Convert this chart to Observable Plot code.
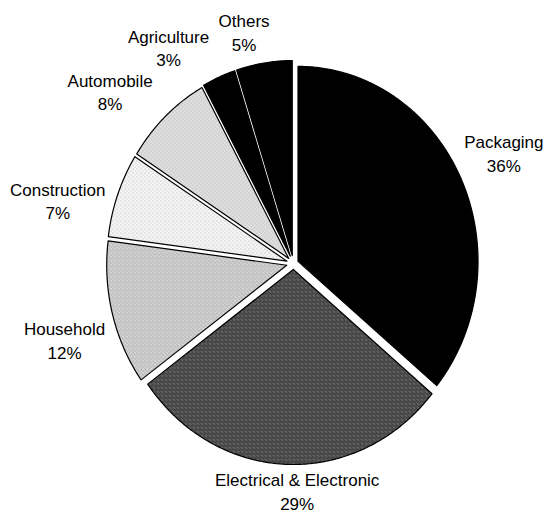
<!DOCTYPE html>
<html>
<head>
<meta charset="utf-8">
<script src="https://cdn.jsdelivr.net/npm/d3@7"></script>
<script src="https://cdn.jsdelivr.net/npm/@observablehq/plot@0.6"></script>
<style>
  html, body { margin: 0; padding: 0; background: #fff; }
  #chart { width: 544px; height: 515px; }
</style>
</head>
<body>
<div id="chart"></div>
<script>
// ---- data ----
const categories = ["Packaging", "Electrical & Electronic", "Household", "Construction", "Automobile", "Agriculture", "Others"];
const shares = [36, 29, 12, 7, 8, 3, 5];

// ---- style / layout ----
const fills = ["#000", "url(#pElec)", "url(#pHouse)", "url(#pConstr)", "url(#pAuto)", "#000", "#000"];
const explodePx = [5, 6, 7, 7, 7, 8, 8];          // explosion distance per slice (px)
const labelAngle = [64, 179, 253, 284, 311, 328, 347];   // degrees clockwise from top
const labelRadius = [1.30, 1.165, 1.33, 1.35, 1.35, 1.31, 1.22];
const cx = 293, cy = 263, rx = 180, ry = 195;

const total = d3.sum(shares);
const rad = Math.PI / 180;
let acc = 0;
const slices = categories.map((name, i) => {
  const a0 = acc / total * 360;
  acc += shares[i];
  const a1 = acc / total * 360;
  const mid = (a0 + a1) / 2;
  const ex = explodePx[i] * Math.sin(mid * rad) / rx;
  const ey = explodePx[i] * Math.cos(mid * rad) / ry;
  const pts = [{x: ex, y: ey}];
  const n = Math.max(2, Math.ceil((a1 - a0) / 0.5));
  for (let k = 0; k <= n; k++) {
    const a = (a0 + (a1 - a0) * k / n) * rad;
    pts.push({x: Math.sin(a) + ex, y: Math.cos(a) + ey});
  }
  pts.push({x: ex, y: ey});
  return {name, share: shares[i], pts, fill: fills[i]};
});

const labels = categories.map((name, i) => ({
  text: `${name}\n${shares[i]}%`,
  x: labelRadius[i] * Math.sin(labelAngle[i] * rad),
  y: labelRadius[i] * Math.cos(labelAngle[i] * rad)
}));

const plot = Plot.plot({
  width: 544,
  height: 515,
  x: {domain: [-1, 1], range: [cx - rx, cx + rx], axis: null},
  y: {domain: [-1, 1], range: [cy + ry, cy - ry], axis: null},
  style: {fontFamily: "'Liberation Sans', Arial, sans-serif", background: "#fff", color: "#000"},
  marks: [
    ...slices.map(s => Plot.line(s.pts, {x: "x", y: "y", fill: s.fill, stroke: "#000", strokeWidth: 1.2, curve: "linear"})),
    Plot.text(labels, {x: "x", y: "y", text: "text", fontSize: 17, lineHeight: 1.38, fill: "#000"})
  ]
});

// stipple patterns
const ns = "http://www.w3.org/2000/svg";
const defs = document.createElementNS(ns, "defs");
function pattern(id, base, dots) {
  const p = document.createElementNS(ns, "pattern");
  p.setAttribute("id", id);
  p.setAttribute("patternUnits", "userSpaceOnUse");
  p.setAttribute("width", 4);
  p.setAttribute("height", 4);
  const r = document.createElementNS(ns, "rect");
  r.setAttribute("width", 4); r.setAttribute("height", 4); r.setAttribute("fill", base);
  p.appendChild(r);
  dots.forEach(([x, y, c]) => {
    const d = document.createElementNS(ns, "rect");
    d.setAttribute("x", x); d.setAttribute("y", y);
    d.setAttribute("width", 1); d.setAttribute("height", 1); d.setAttribute("fill", c);
    p.appendChild(d);
  });
  defs.appendChild(p);
}
pattern("pElec", "#535353", [[0,0,"#1e1e1e"],[2,1,"#2c2c2c"],[1,3,"#858585"],[3,2,"#3a3a3a"]]);
pattern("pHouse", "#cbcbcb", [[0,0,"#8f8f8f"],[2,2,"#a0a0a0"],[3,0,"#eee"],[1,3,"#e8e8e8"]]);
pattern("pConstr", "#f4f4f4", [[0,0,"#b5b5b5"],[2,2,"#c8c8c8"]]);
pattern("pAuto", "#e6e6e6", [[0,0,"#999"],[2,2,"#9e9e9e"],[2,0,"#c0c0c0"],[0,2,"#c4c4c4"]]);
plot.insertBefore(defs, plot.firstChild);

document.getElementById("chart").appendChild(plot);
</script>
</body>
</html>
